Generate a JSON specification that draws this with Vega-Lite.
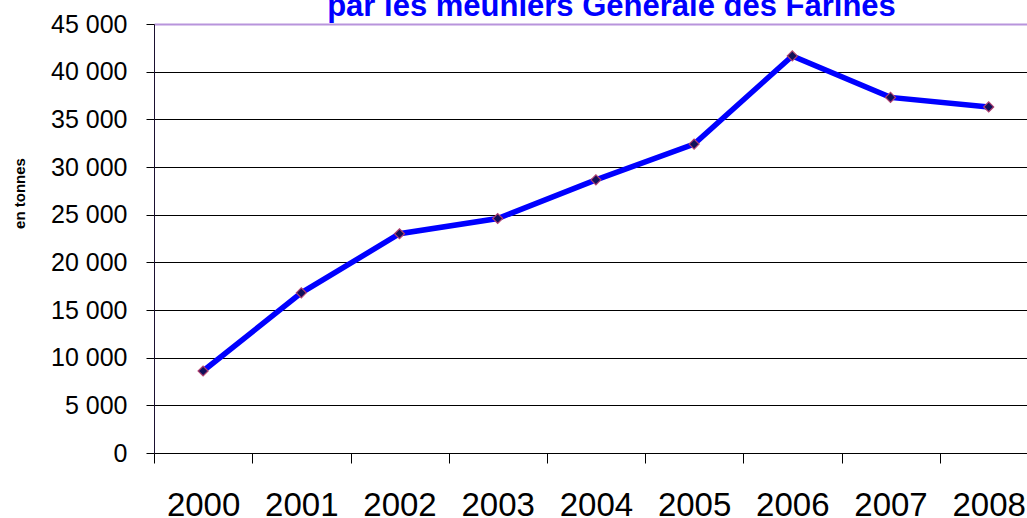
{
  "$schema": "https://vega.github.io/schema/vega-lite/v6.json",
  "width": 873,
  "height": 429,
  "autosize": {"type": "none"},
  "padding": {"left": 154, "top": 24, "right": 0, "bottom": 65},
  "background": "white",
  "title": {
    "text": "par les meuniers Générale des Farines",
    "color": "#0000FF",
    "font": "Liberation Sans",
    "fontSize": 31,
    "fontWeight": "bold",
    "anchor": "middle",
    "frame": "group",
    "baseline": "alphabetic",
    "offset": 0,
    "dx": 21,
    "dy": 35
  },
  "data": {
    "values": [
      {"annee": 2000, "tonnes": 8600},
      {"annee": 2001, "tonnes": 16800},
      {"annee": 2002, "tonnes": 23000},
      {"annee": 2003, "tonnes": 24600},
      {"annee": 2004, "tonnes": 28650},
      {"annee": 2005, "tonnes": 32400},
      {"annee": 2006, "tonnes": 41650},
      {"annee": 2007, "tonnes": 37300},
      {"annee": 2008, "tonnes": 36300}
    ]
  },
  "mark": {
    "type": "line",
    "color": "#0000FF",
    "strokeWidth": 5.5,
    "point": {"shape": "diamond", "filled": true, "fill": "#10105a", "stroke": "#b04070", "strokeWidth": 1.2, "size": 100}
  },
  "encoding": {
    "x": {
      "field": "annee",
      "type": "quantitative",
      "scale": {"domain": [1999.5, 2008.39], "nice": false, "zero": false},
      "axis": {
        "title": null,
        "values": [2000, 2001, 2002, 2003, 2004, 2005, 2006, 2007, 2008],
        "format": "d",
        "tickOffset": -49,
        "labelOffset": 49,
        "labelBound": false,
        "labelOverlap": false,
        "labelFlush": false,
        "grid": false,
        "domainColor": "#000000",
        "domainWidth": 1,
        "tickColor": "#000000",
        "tickSize": 10,
        "labelPadding": 26,
        "labelFont": "Liberation Sans",
        "labelFontSize": 33,
        "labelColor": "#000000"
      }
    },
    "y": {
      "field": "tonnes",
      "type": "quantitative",
      "scale": {"domain": [0, 45000], "nice": false},
      "axis": {
        "title": "en tonnes",
        "titleFont": "Liberation Sans",
        "titleFontSize": 15,
        "titleFontWeight": "bold",
        "titleColor": "#000000",
        "titleAngle": 270,
        "titleAlign": "center",
        "titleBaseline": "middle",
        "titleX": -135,
        "titleY": 169,
        "values": [0, 5000, 10000, 15000, 20000, 25000, 30000, 35000, 40000, 45000],
        "labelExpr": "replace(format(datum.value, ','), ',', ' ')",
        "labelFont": "Liberation Sans",
        "labelFontSize": 25,
        "labelColor": "#000000",
        "labelPadding": 19,
        "tickSize": 8,
        "tickColor": "#000000",
        "domainColor": "#1a1030",
        "domainWidth": 1,
        "grid": true,
        "gridColor": {"condition": {"test": "datum.value === 45000", "value": "#b894dc"}, "value": "#000000"},
        "gridWidth": {"condition": {"test": "datum.value === 45000", "value": 2}, "value": 1},
        "gridOpacity": 1
      }
    }
  },
  "config": {"view": {"stroke": null}}
}
